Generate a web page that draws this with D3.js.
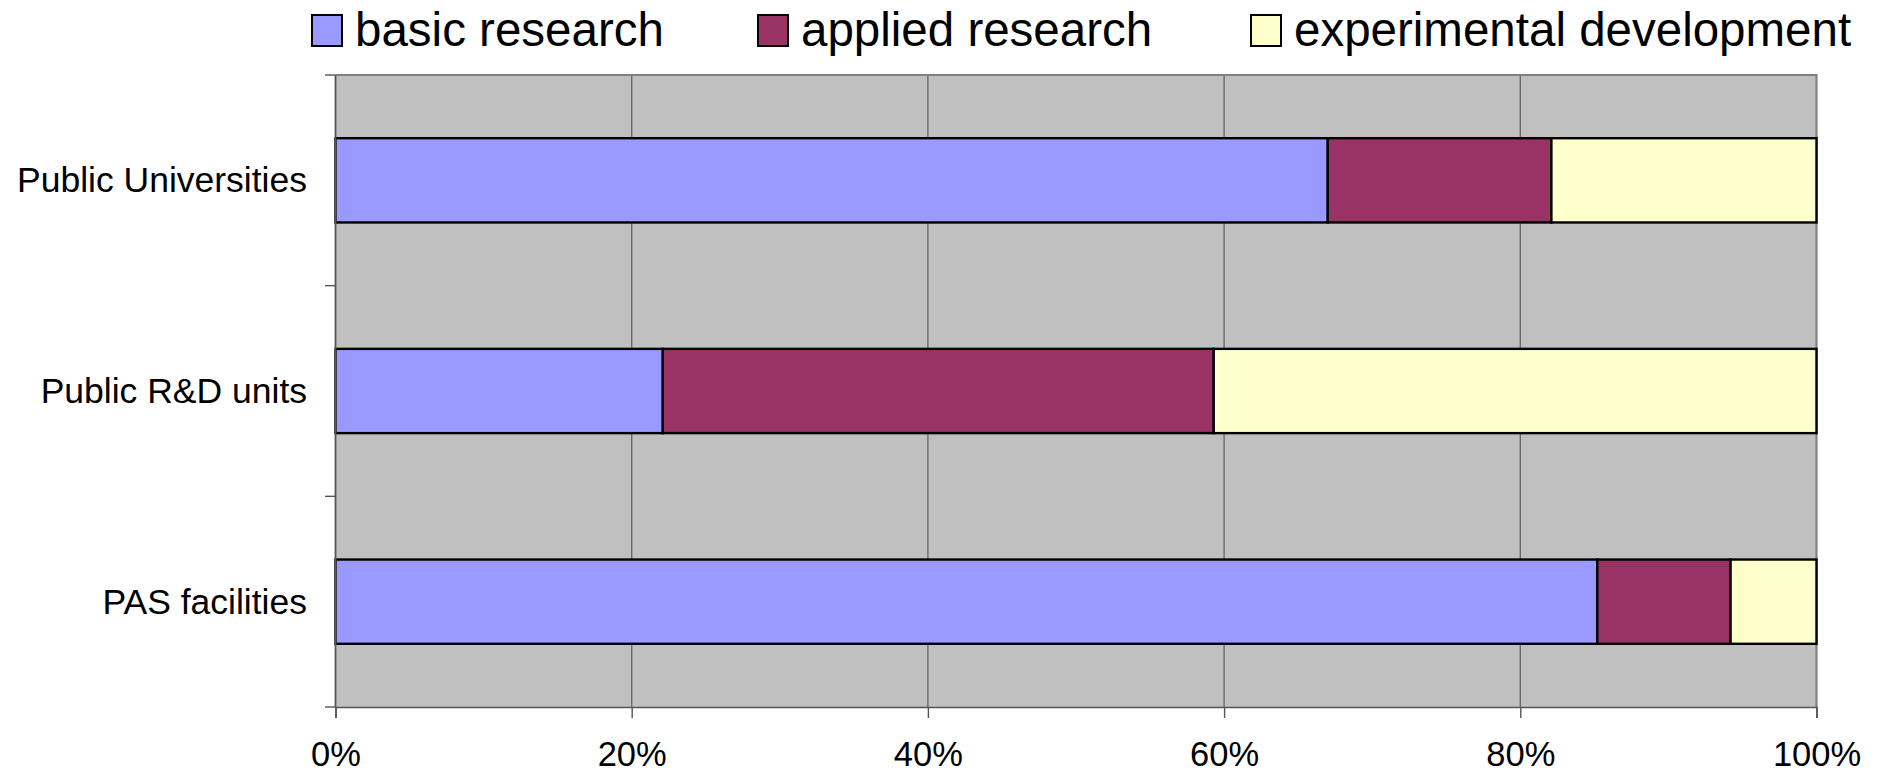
<!DOCTYPE html>
<html>
<head>
<meta charset="utf-8">
<script src="https://cdn.jsdelivr.net/npm/d3@7"></script>
<style>
  html, body { margin: 0; padding: 0; background: #fff; }
  svg { display: block; font-family: "Liberation Sans", Arial, sans-serif; }
</style>
</head>
<body>
<svg id="chart" width="1880" height="773"></svg>
<script>
// Share of R&D spending by type of research, per sector (percent)
const categories = ["Public Universities", "Public R&D units", "PAS facilities"];
const seriesNames = ["basic research", "applied research", "experimental development"];
const basicResearch = [67.0, 22.1, 85.2];
const appliedResearch = [15.1, 37.2, 9.0];
const experimentalDevelopment = [17.9, 40.7, 5.8];
const seriesColors = ["#9999FF", "#993366", "#FFFFCC"];
const xTicks = [0, 20, 40, 60, 80, 100];

const svg = d3.select("#chart");

const plot = { left: 335.5, right: 1816.5, top: 75, bottom: 707 };

const x = d3.scaleLinear().domain([0, 100]).range([plot.left, plot.right]);
const y = d3.scaleBand().domain(categories).range([plot.top, plot.bottom])
  .paddingInner(0.6).paddingOuter(0.3);

// plot background
svg.append("rect")
  .attr("x", plot.left).attr("y", plot.top)
  .attr("width", plot.right - plot.left).attr("height", plot.bottom - plot.top)
  .attr("fill", "#C0C0C0");

// vertical gridlines
svg.append("g").selectAll("line")
  .data(xTicks.filter(d => d > 0 && d < 100))
  .join("line")
  .attr("x1", d => x(d)).attr("x2", d => x(d))
  .attr("y1", plot.top).attr("y2", plot.bottom)
  .attr("stroke", "#6a6a6a").attr("stroke-width", 1.4);

// plot frame (top and right)
svg.append("path")
  .attr("d", `M${plot.left},${plot.top}H${plot.right}V${plot.bottom}`)
  .attr("fill", "none").attr("stroke", "#808080").attr("stroke-width", 2.2);

// stacked bars
const rows = categories.map((c, i) => ({
  cat: c, vals: [basicResearch[i], appliedResearch[i], experimentalDevelopment[i]]
}));
const segs = [];
rows.forEach(r => {
  let acc = 0;
  r.vals.forEach((v, k) => {
    segs.push({ cat: r.cat, x0: acc, x1: acc + v, k });
    acc += v;
  });
});
svg.append("g").selectAll("rect")
  .data(segs)
  .join("rect")
  .attr("x", d => x(d.x0))
  .attr("y", d => y(d.cat))
  .attr("width", d => x(d.x1) - x(d.x0))
  .attr("height", y.bandwidth())
  .attr("fill", d => seriesColors[d.k])
  .attr("stroke", "#000").attr("stroke-width", 2.4);

// x axis
const xAxis = svg.append("g")
  .attr("transform", `translate(0,${plot.bottom})`)
  .call(d3.axisBottom(x).tickValues(xTicks).tickFormat(d => d + "%").tickSize(11).tickPadding(0));
xAxis.select(".domain").attr("stroke", "#555").attr("stroke-width", 1.6);
xAxis.selectAll(".tick line").attr("stroke", "#555").attr("stroke-width", 1.4);
xAxis.selectAll(".tick text")
  .attr("y", 59).attr("dy", null)
  .attr("font-size", 34.5).attr("fill", "#000")
  .attr("font-family", "'Liberation Sans', Arial, sans-serif");

// y axis: category labels centred on bars
const yAxis = svg.append("g")
  .attr("transform", `translate(${plot.left},0)`)
  .call(d3.axisLeft(y).tickSize(0).tickPadding(28.5));
yAxis.select(".domain").remove();
yAxis.selectAll(".tick text")
  .attr("font-size", 35.5).attr("fill", "#000")
  .attr("dy", "0.34em")
  .attr("font-family", "'Liberation Sans', Arial, sans-serif");

// y axis line and ticks at band boundaries
const step = y.step();
const bounds = [plot.top].concat(categories.map(c => y(c) + y.bandwidth() + step * y.paddingInner() / 2));
bounds[bounds.length - 1] = plot.bottom;
svg.append("line")
  .attr("x1", plot.left).attr("x2", plot.left)
  .attr("y1", plot.top).attr("y2", plot.bottom)
  .attr("stroke", "#555").attr("stroke-width", 1.8);
svg.append("g").selectAll("line")
  .data(bounds)
  .join("line")
  .attr("x1", plot.left - 10.5).attr("x2", plot.left)
  .attr("y1", d => d).attr("y2", d => d)
  .attr("stroke", "#555").attr("stroke-width", 1.4);

// legend
const legendX = [311, 757, 1250];
const legend = svg.append("g").selectAll("g")
  .data(seriesNames)
  .join("g")
  .attr("transform", (d, i) => `translate(${legendX[i]},14)`);
legend.append("rect")
  .attr("x", 1).attr("y", 1).attr("width", 30).attr("height", 31)
  .attr("fill", (d, i) => seriesColors[i])
  .attr("stroke", "#000").attr("stroke-width", 2);
legend.append("text")
  .attr("x", 44).attr("y", 32)
  .attr("font-size", 47.5).attr("fill", "#000")
  .text(d => d);
</script>
</body>
</html>
